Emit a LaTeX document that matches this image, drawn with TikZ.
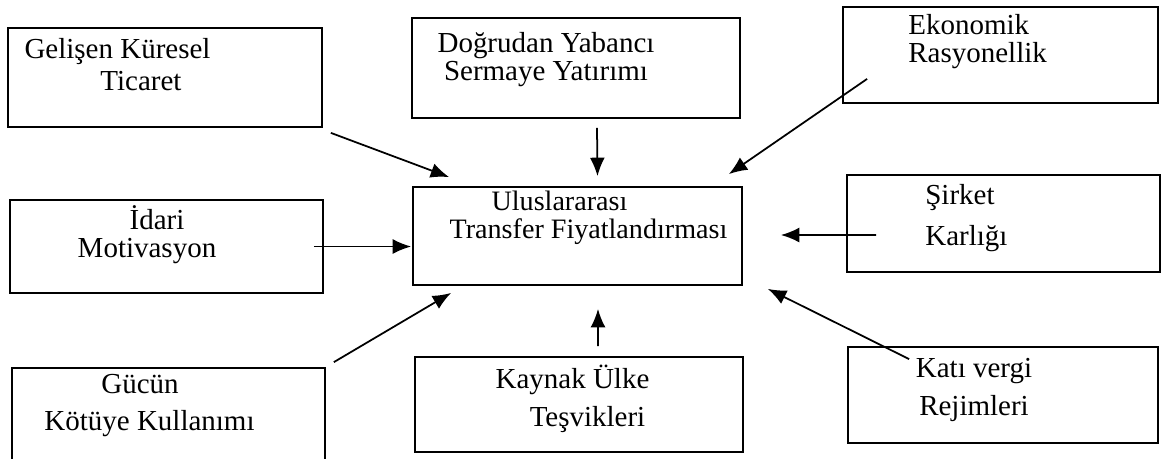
\documentclass[tikz,border=0pt]{standalone}
\usepackage{fontspec}
\setmainfont{Liberation Serif}
\usetikzlibrary{arrows.meta, calc}

\begin{document}
\begin{tikzpicture}[x=0.02cm, y=-0.02cm,
        kutu/.style={rectangle, draw=black, line width=1pt, inner sep=0pt},
        yazi/.style={align=center, inner sep=0pt, anchor=base, font=\fontsize{16.5}{#1}\selectfont},
        yazi/.default=16pt,
        ok/.style={line width=1pt, -{Latex[length=10.5pt, width=8.5pt]}}
    ]
        \clip (0,0) rectangle (1163,458);

        % Dış kutular (üst sıra)
        \node[kutu, minimum width=6.28cm, minimum height=1.98cm] (ticaret) at (165,77.5) {};
        \node[kutu, minimum width=6.56cm, minimum height=2.0cm] (yatirim) at (576,68) {};
        \node[kutu, minimum width=6.3cm, minimum height=1.92cm] (rasyonel) at (1000.5,55) {};

        % Orta sıra ve merkez kutu
        \node[kutu, minimum width=6.26cm, minimum height=1.86cm] (idari) at (166.5,246.5) {};
        \node[kutu, minimum width=6.58cm, minimum height=1.96cm] (utf) at (577.5,236) {};
        \node[kutu, minimum width=6.26cm, minimum height=1.94cm] (karlilik) at (1003.5,223.5) {};

        % Alt sıra (sol kutu sayfanın altından taşıyor)
        \node[kutu, minimum width=6.26cm, minimum height=2.04cm] (guc) at (168.5,419) {};
        \node[kutu, minimum width=6.56cm, minimum height=1.9cm] (tesvik) at (579,404.5) {};
        \node[kutu, minimum width=6.2cm, minimum height=1.92cm] (vergi) at (1003,395) {};

        % Kutu yazıları (konum: son satırın taban çizgisi)
        \node[yazi=18.2pt] (ticaret-y) at (117.5,90) {Gelişen Küresel\\\hspace*{0.94cm}Ticaret};
        \node[yazi=15.4pt] (yatirim-y) at (546,80) {Doğrudan Yabancı\\Sermaye Yatırımı};
        \node[yazi=15.4pt, align=left, anchor=base west] (rasyonel-y) at (908,62) {Ekonomik\\Rasyonellik};
        \node[yazi=15.6pt] (idari-y) at (147,257) {\hspace*{0.4cm}İdari\\Motivasyon};
        \node[yazi=15.9pt, font=\fontsize{16}{15.9}\selectfont] (utf-y) at (588.5,238) {Uluslararası\hspace*{1.16cm}\\Transfer Fiyatlandırması};
        \node[yazi=22.8pt, align=left, anchor=base west] (karlilik-y) at (925,245) {Şirket\\Karlığı};
        \node[yazi=21pt] (guc-y) at (149.5,430) {Gücün\hspace*{0.38cm}\\Kötüye Kullanımı};
        \node[yazi=21.6pt] (tesvik-y) at (572.5,426) {Kaynak Ülke\\\hspace*{0.6cm}Teşvikleri};
        \node[yazi=21.6pt] (vergi-y) at (974,415) {Katı vergi\\Rejimleri};

        % Merkeze giden oklar
        \draw[ok] ($(ticaret.south east)+(8,5)$) -- ($(utf.north west)+(37,-9)$);
        \draw[ok] ($(yatirim.south)+(21,9)$) -- ($(utf.north)+(20,-10)$);
        \draw[ok] ($(rasyonel.south west)+(25,-25)$) -- ($(utf.north east)+(-14,-12)$);
        \draw[ok] ($(idari.east)+(-10,0)$) -- ($(utf.west |- idari.east)+(-1,0)$);
        \draw[ok] ($(karlilik.west)+(30,11.5)$) -- ($(utf.east)+(38,-1)$);
        \draw[ok] ($(guc.north east)+(8,-5)$) -- ($(utf.south west)+(39,7)$);
        \draw[ok] ($(tesvik.north)+(19,-10)$) -- ($(utf.south)+(20.5,23)$);
        \draw[ok] ($(vergi.north west)+(62,13)$) -- ($(utf.south east)+(25,3)$);
    \end{tikzpicture}
\end{document}
